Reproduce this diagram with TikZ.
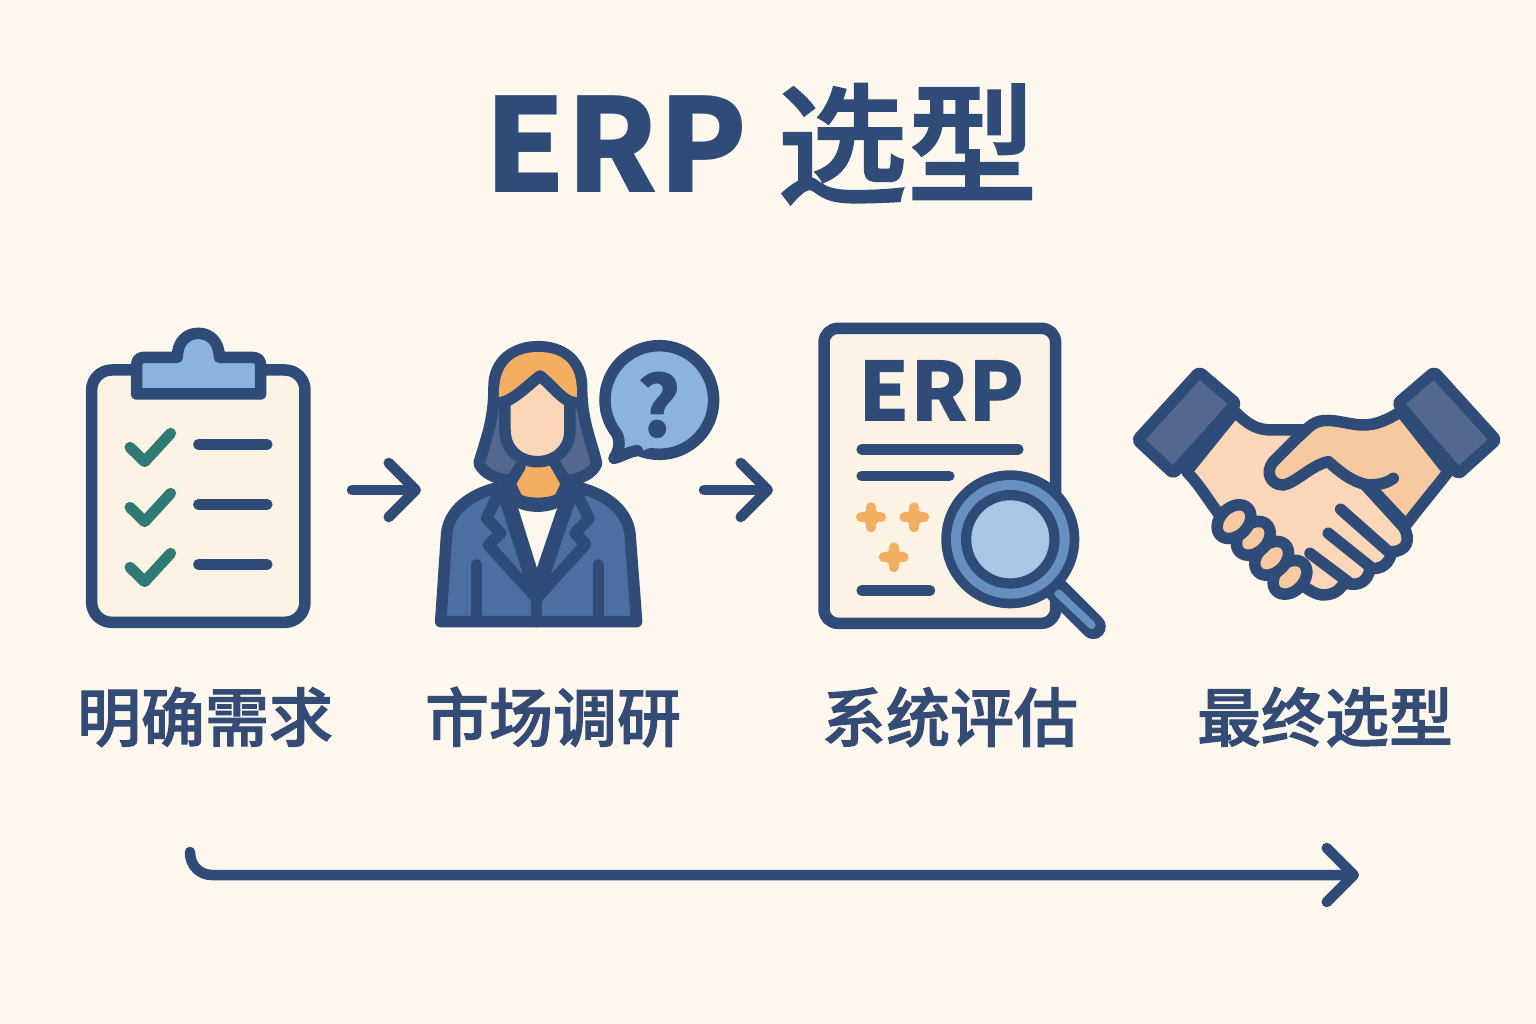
\documentclass[tikz,border=0pt]{standalone}
\usepackage{fontspec}
\usepackage{xcolor}
\usetikzlibrary{arrows.meta}
\setmainfont{Noto Sans CJK SC}
\newfontfamily\heavycjk{Noto Sans CJK SC}[UprightFont=* Medium,FakeBold=1.6]
\definecolor{paper}{HTML}{FDF7EE}
\definecolor{sheet}{HTML}{FCF3E4}
\definecolor{navy}{HTML}{2F4B78}
\definecolor{inkblue}{HTML}{344B75}
\definecolor{sky}{HTML}{8AB4DC}
\definecolor{lens}{HTML}{A7C7E5}
\definecolor{ringblue}{HTML}{6690C0}
\definecolor{suit}{HTML}{4A6FA0}
\definecolor{slate}{HTML}{54688F}
\definecolor{peach}{HTML}{FBD6B8}
\definecolor{tan}{HTML}{F7C9A0}
\definecolor{amber}{HTML}{F4AE62}
\definecolor{teal}{HTML}{2F7A74}
\begin{document}
\begin{tikzpicture}[x={(1pt,0pt)},y={(0pt,-1pt)},
	outline/.style={draw=navy,line width=11.5pt,line join=round,line cap=round},
	textline/.style={navy,line width=10.5pt,line cap=round},
	tick/.style={teal,line width=11pt,line cap=round,line join=round},
	flowarrow/.style={navy,line width=10.5pt,line cap=round,-{Straight Barb[length=27pt,width=54pt,round]}},
	steplabel/.style={text=inkblue,font=\heavycjk\fontsize{64}{70}\selectfont,inner sep=0pt,anchor=center},
	spark/.style={amber,line width=10pt,line cap=round}]
	\useasboundingbox (0,0) rectangle (1536,1024);
	\fill[paper] (0,0) rectangle (1536,1024);
	\node[text=navy,font=\fontsize{130}{140}\selectfont,inner sep=0pt] (title) at (761,144) {\textbf{ERP} {\heavycjk 选型}};

	\begin{scope}[shift={(70,320)},scale=0.3333]
		\draw[outline,fill=sheet,rounded corners=20pt] (65,150) rectangle (705,907);
		\draw[outline,fill=sky] (200,222) -- (200,135) .. controls (200,118) and (210,112) .. (225,112) -- (322,112) .. controls (322,65) and (350,40) .. (385,40) .. controls (420,40) and (448,65) .. (448,112) -- (545,112) .. controls (560,112) and (572,118) .. (572,135) -- (572,222) -- cycle;
		\foreach \ty in {0,180,360}{
			\draw[tick] (180,382+\ty) -- (224,425+\ty) -- (302,340+\ty);
			\draw[textline] (385,373+\ty) -- (592,373+\ty);
		}
	\end{scope}

	\coordinate (needOut) at (352,490);
	\coordinate (marketIn) at (421,490);
	\draw[flowarrow] (needOut) -- (marketIn);

	\begin{scope}[shift={(420,320)},scale=0.3333]
		\draw[outline,fill=slate] (177,430) .. controls (200,350) and (222,300) .. (222,200) .. controls (222,120) and (285,80) .. (355,80) .. controls (425,80) and (485,120) .. (485,200) .. controls (485,300) and (510,350) .. (530,430) .. controls (520,460) and (480,478) .. (450,480) -- (265,480) .. controls (230,478) and (190,460) .. (177,430) -- cycle;
		\fill[amber] (237,235) .. controls (232,130) and (285,96) .. (355,96) .. controls (425,96) and (478,130) .. (470,235) -- cycle;
		\draw[outline,fill=amber] (300,440) -- (270,490) -- (290,535) .. controls (310,555) and (395,555) .. (420,535) -- (440,490) -- (405,430);
		\draw[outline,fill=suit] (62,905) -- (80,640) .. controls (88,570) and (150,525) .. (225,505) -- (270,540) .. controls (300,565) and (405,565) .. (440,540) -- (485,505) .. controls (560,525) and (620,570) .. (630,640) -- (650,905) -- cycle;
		\draw[outline,fill=suit] (240,510) -- (200,595) -- (242,640) -- (205,675) -- (350,835) -- (262,560) -- cycle;
		\draw[outline,fill=suit] (465,510) -- (507,595) -- (465,640) -- (497,672) -- (350,835) -- (442,560) -- cycle;
		\fill[paper] (280,552) -- (420,552) -- (350,790) -- cycle;
		\draw[outline] (258,505) -- (350,800) -- (450,505);
		\draw[outline] (350,830) -- (350,905);
		\draw[outline] (170,735) -- (170,890);
		\draw[outline] (535,735) -- (535,890);
		\draw[outline] (272,530) .. controls (310,568) and (395,568) .. (435,530);
		\draw[outline,fill=peach] (255,245) .. controls (290,232) and (330,190) .. (360,168) .. controls (390,190) and (420,232) .. (450,245) -- (450,330) .. controls (450,390) and (405,425) .. (352,425) .. controls (300,425) and (255,390) .. (255,330) -- cycle;
		\draw[outline] (232,250) -- (255,245);
		\draw[outline] (450,245) -- (475,250);
		\draw[outline,fill=sky] (718,240) circle (163);
		\fill[sky] (600,330) -- (590,410) -- (660,395) -- (700,380) -- cycle;
		\draw[outline,fill=sky] (592,345) .. controls (603,370) and (595,395) .. (582,415) .. controls (605,410) and (625,395) .. (652,392);
		\node[text=navy,font=\bfseries\fontsize{84}{90}\selectfont,inner sep=0pt] (askmark) at (716,255) {?};
	\end{scope}

	\coordinate (marketOut) at (704,490);
	\coordinate (reviewIn) at (773,490);
	\draw[flowarrow] (marketOut) -- (reviewIn);

	\begin{scope}[shift={(800,310)},scale=0.3333]
		\draw[outline,fill=sheet,rounded corners=14pt] (72,55) rectangle (767,940);
		\node[text=navy,font=\bfseries\fontsize{82}{90}\selectfont,inner sep=0pt] (docname) at (425,243) {ERP};
		\draw[textline] (185,418) -- (655,418);
		\draw[textline] (185,498) -- (448,498);
		\draw[textline] (185,842) -- (390,842);
		\foreach \sx/\sy in {213/622,343/622,281/742}{
			\draw[spark] (\sx-30,\sy) -- (\sx+30,\sy);
			\draw[spark] (\sx,\sy-30) -- (\sx,\sy+30);
			\fill[amber] (\sx,\sy) circle (25);
		}
		\draw[navy,line width=25pt,line cap=round] (770,840) -- (880,950);
		\draw[ringblue,line width=8pt,line cap=round] (775,850) -- (875,945);
		\fill[navy] (631,688) circle (207);
		\fill[ringblue] (631,688) circle (178);
		\fill[navy] (631,688) circle (148);
		\fill[lens] (631,688) circle (117);
	\end{scope}

	\begin{scope}[shift={(1120,350)},scale=0.3333]
		\draw[outline,fill=peach] (345,185) .. controls (385,225) and (410,238) .. (450,240) -- (560,240) -- (740,410) -- (850,530) .. controls (875,570) and (860,605) .. (815,605) .. controls (810,640) and (785,660) .. (750,655) .. controls (745,695) and (715,710) .. (680,700) .. controls (660,700) and (665,735) .. (605,735) .. controls (570,730) and (530,690) .. (510,680) -- (295,490) .. controls (265,450) and (235,400) .. (200,365) -- cycle;
		\draw[outline,fill=tan] (843,185) .. controls (800,210) and (770,225) .. (730,225) .. controls (690,225) and (650,208) .. (610,212) .. controls (575,215) and (560,240) .. (530,265) -- (460,335) .. controls (435,365) and (450,405) .. (490,405) .. controls (525,400) and (575,345) .. (625,335) .. controls (655,360) and (690,395) .. (745,405) -- (858,525) .. controls (900,470) and (950,410) .. (985,365) -- cycle;
		\draw[outline] (745,405) .. controls (775,405) and (800,400) .. (820,385);
		\draw[outline] (745,410) -- (850,530);
		\draw[outline] (662,478) -- (800,600);
		\draw[outline] (625,550) -- (750,650);
		\draw[outline] (570,610) -- (690,700);
		\draw[outline,fill=slate,rounded corners=3pt] (238,66) -- (348,160) -- (160,370) -- (52,270) -- cycle;
		\draw[outline,fill=slate,rounded corners=3pt] (943,66) -- (833,160) -- (1015,372) -- (1128,270) -- cycle;
		\foreach \kx/\ky in {510/682,455/625,400/565,342/515}{
			\draw[outline,fill=tan,shift={(\kx,\ky)},rotate=45] (0,0) ellipse [x radius=58,y radius=42];
		}
	\end{scope}

	\node[steplabel] (needLabel) at (205,717) {明确需求};
	\node[steplabel] (marketLabel) at (553,717) {市场调研};
	\node[steplabel] (reviewLabel) at (950,717) {系统评估};
	\node[steplabel] (finalLabel) at (1325,717) {最终选型};

	\coordinate (timeStart) at (190,852);
	\coordinate (timeBend) at (212,875);
	\coordinate (timeEnd) at (1359,875);
	\draw[flowarrow] (timeStart) .. controls +(0,14) and +(-12,0) .. (timeBend) -- (timeEnd);
\end{tikzpicture}
\end{document}
